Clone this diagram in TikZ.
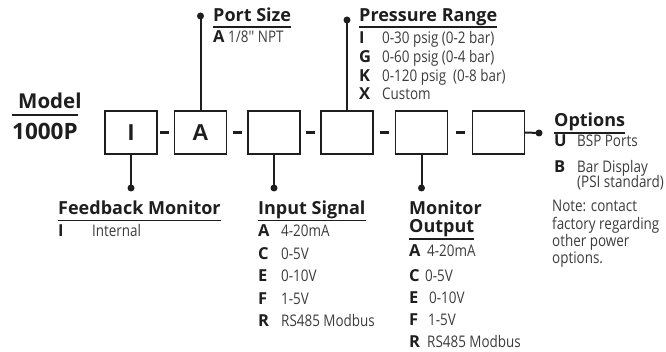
\documentclass[tikz,border=0pt]{standalone}
\usepackage{fontspec}
\setmainfont{Open Sans}
\newfontfamily\cond[FakeStretch=0.84]{Open Sans}
\newfontfamily\boxfont{Liberation Sans}
\definecolor{ink}{HTML}{1E1E1E}
\definecolor{valgray}{HTML}{3C3C3C}
\begin{document}
\begin{tikzpicture}[x=1pt,y=-1pt,
  codebox/.style={draw=ink,line width=1.2pt,minimum width=52pt,minimum height=43pt,inner sep=0pt,
    font=\boxfont\bfseries\fontsize{23}{23}\selectfont,text=ink},
  hd/.style={anchor=base west,inner sep=0pt,font=\bfseries\fontsize{18}{18}\selectfont,text=ink},
  model/.style={anchor=base west,inner sep=0pt,font=\bfseries\fontsize{20.5}{20.5}\selectfont,text=ink},
  keyl/.style={anchor=base west,inner sep=0pt,font=\bfseries\fontsize{16.5}{16.5}\selectfont,text=ink},
  val/.style={anchor=base west,inner sep=0pt,font=\cond\fontsize{16}{16}\selectfont,text=valgray},
  lead/.style={line width=2pt,draw=ink},
  ul/.style={line width=1.4pt,draw=ink},
  dotn/.style={circle,fill=ink,inner sep=0pt,minimum size=7pt},
  hyph/.style={fill=ink,inner sep=0pt,minimum width=9pt,minimum height=3.5pt}
]
\useasboundingbox (0,0) rectangle (666,352);

% Model
\node[model] (mdl) at (18,108.5) {Model};
\node[model,font=\bfseries\fontsize{22.5}{22.5}\selectfont] (num) at (12,139.3) {1000P};
\draw[line width=2pt,draw=ink] ([yshift=-6.5pt]num.base west |- mdl.base) -- ([yshift=-6.5pt]num.base east |- mdl.base);

% boxes
\node[codebox] (b1) at (131,132.5) {I};
\node[codebox] (b2) at (200.5,132.5) {A};
\node[codebox] (b3) at (274,132.5) {};
\node[codebox] (b4) at (347,132.5) {};
\node[codebox] (b5) at (421.5,132.5) {};
\node[codebox] (b6) at (498.5,132.5) {};

\node[hyph] (h1) at (164.5,132.5) {};
\node[hyph] (h2) at (237.5,132.5) {};
\node[hyph] (h3) at (310.5,132.5) {};
\node[hyph] (h4) at (384,132.5) {};
\node[hyph] (h5) at (460.5,132.5) {};

% Port Size
\node[dotn] (pd) at (200.5,16) {};
\draw[lead] (pd.center) -- (b2.north);
\node[hd] (psh) at (213,22) {Port Size};
\draw[ul] ([yshift=-5pt]psh.base west) -- ([yshift=-5pt]psh.base east);
\node[keyl] (psa) at (213,43) {A};
\node[val] (psav) at (228,43) {1/8'' NPT};

% Pressure Range
\node[dotn] (prd) at (347,20) {};
\draw[lead] (prd.center) -- (b4.north);
\node[hd] (prh) at (359,22) {Pressure Range};
\draw[ul] ([yshift=-5pt]prh.base west) -- ([yshift=-5pt]prh.base east);
\node[keyl] (pri) at (359,44) {I};
\node[val] (priv) at (382,44) {0-30 psig (0-2 bar)};
\node[keyl] (prg) at (359,62.7) {G};
\node[val] (prgv) at (382,62.7) {0-60 psig (0-4 bar)};
\node[keyl] (prk) at (359,81.3) {K};
\node[val] (prkv) at (382,81.3) {0-120 psig\ \ (0-8 bar)};
\node[keyl] (prx) at (359,100) {X};
\node[val] (prxv) at (382,100) {Custom};

% Options
\node[dotn] (od) at (539,133) {};
\draw[lead] (b6.east) -- (od.center);
\node[hd] (oph) at (554,127) {Options};
\draw[ul] ([yshift=-6pt]oph.base west) -- ([yshift=-6pt]oph.base east);
\node[keyl] (opu) at (554,147) {U};
\node[val] (opuv) at (577,147) {BSP Ports};
\node[keyl] (opb) at (554,173) {B};
\node[val] (opbv) at (577,173) {Bar Display};
\node[val] (opbv2) at (577,188) {(PSI standard)};
\node[val] (n1) at (552,212) {Note: contact};
\node[val] (n2) at (552,229.5) {factory regarding};
\node[val] (n3) at (552,247) {other power};
\node[val] (n4) at (552,264) {options.};

% Feedback Monitor
\node[dotn] (fd) at (131,188) {};
\draw[lead] (b1.south) -- (fd.center);
\node[hd] (fbh) at (58,215) {Feedback Monitor};
\draw[ul] ([yshift=-5.5pt]fbh.base west) -- ([yshift=-5.5pt]fbh.base east);
\node[keyl] (fbi) at (58,236.7) {I};
\node[val] (fbiv) at (92,236.7) {Internal};

% Input Signal
\node[dotn] (isd) at (274,188) {};
\draw[lead] (b3.south) -- (isd.center);
\node[hd] (ish) at (258,215) {Input Signal};
\draw[ul] ([yshift=-5.5pt]ish.base west) -- ([yshift=-5.5pt]ish.base east);
\node[keyl] (isa) at (258,236.7) {A};
\node[val] (isav) at (281,236.7) {4-20mA};
\node[keyl] (isc) at (258,259.2) {C};
\node[val] (iscv) at (281,259.2) {0-5V};
\node[keyl] (ise) at (258,281.7) {E};
\node[val] (isev) at (281,281.7) {0-10V};
\node[keyl] (isf) at (258,304.2) {F};
\node[val] (isfv) at (281,304.2) {1-5V};
\node[keyl] (isr) at (258,326.7) {R};
\node[val] (isrv) at (281,326.7) {RS485 Modbus};

% Monitor Output
\node[dotn] (mod) at (421.5,188) {};
\draw[lead] (b5.south) -- (mod.center);
\node[hd] (moh1) at (409,215) {Monitor};
\node[hd] (moh2) at (409,233) {Output};
\draw[ul] ([yshift=-6pt]moh2.base west) -- ([yshift=-6pt]moh2.base east);
\node[keyl] (moa) at (409,257) {A};
\node[val] (moav) at (427,257) {4-20mA};
\node[keyl] (moc) at (409,281.5) {C};
\node[val] (mocv) at (425,281.5) {0-5V};
\node[keyl] (moe) at (409,303.3) {E};
\node[val] (moev) at (429,303.3) {0-10V};
\node[keyl] (mof) at (409,325) {F};
\node[val] (mofv) at (428,325) {1-5V};
\node[keyl] (mor) at (409,347) {R};
\node[val] (morv) at (427,347) {RS485 Modbus};
\end{tikzpicture}
\end{document}
